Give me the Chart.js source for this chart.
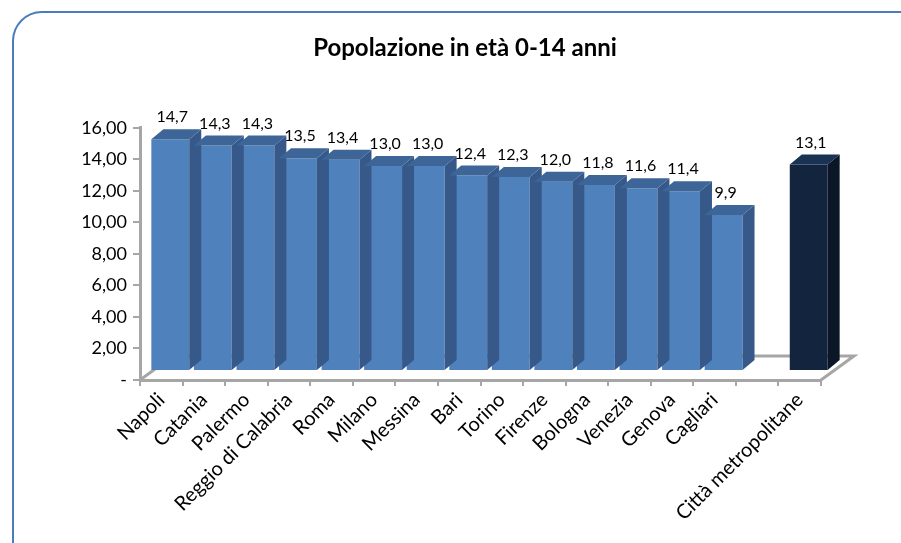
<!DOCTYPE html>
<html>
<head>
<meta charset="utf-8">
<script src="https://cdn.jsdelivr.net/npm/chart.js@4"></script>
<style>
  html, body { margin: 0; padding: 0; background: #fff; overflow: hidden; }
  #wrap { position: relative; width: 901px; height: 543px; }
  #frame { position: absolute; left: 12px; top: 11px; width: 930px; height: 570px;
           border: 2px solid #4a7ebb; border-radius: 30px; box-sizing: border-box; }
  canvas { position: absolute; left: 0; top: 0; }
</style>
</head>
<body>
<div id="wrap">
  <div id="frame"></div>
  <canvas id="chart" width="901" height="543"></canvas>
</div>
<script>
// categories and values (the empty slot is the gap before the total)
var citta = ['Napoli', 'Catania', 'Palermo', 'Reggio di Calabria', 'Roma', 'Milano', 'Messina',
  'Bari', 'Torino', 'Firenze', 'Bologna', 'Venezia', 'Genova', 'Cagliari', '', 'Città metropolitane'];
var quota = [14.7, 14.3, 14.3, 13.5, 13.4, 13.0, 13.0, 12.4, 12.3, 12.0, 11.8, 11.6, 11.4, 9.9, null, 13.1];
var yTicks = [0, 2, 4, 6, 8, 10, 12, 14, 16];

var FONT = 'Lato, "Open Sans", sans-serif';
var shift = { x: 9, y: -9 };     // bars sit a bit back on the floor
var depth = { x: 12, y: -10 };   // 3d depth of each column
var floorDepth = { x: 33, y: -24 };

function faceColors(i) {
  if (i === citta.length - 1) return { front: '#12243e', side: '#0b1727', top: '#1a3253' };
  return { front: '#4f81bd', side: '#36598a', top: '#3d6597' };
}

function fmt(v) {
  return v.toFixed(1).replace('.', ',');
}

var columns3d = {
  id: 'columns3d',
  beforeDatasetsDraw(chart) {
    var ctx = chart.ctx, a = chart.chartArea;
    var y0 = chart.scales.y.getPixelForValue(0);
    // floor outline
    ctx.save();
    ctx.strokeStyle = '#a6a6a6';
    ctx.lineWidth = 3;
    ctx.beginPath();
    ctx.moveTo(a.left, y0);
    ctx.lineTo(a.left + floorDepth.x, y0 + floorDepth.y);
    ctx.lineTo(a.right + floorDepth.x, y0 + floorDepth.y);
    ctx.lineTo(a.right, y0);
    ctx.stroke();
    ctx.restore();
    ctx.save();
    ctx.translate(shift.x, shift.y);
  },
  afterDatasetsDraw(chart) {
    var ctx = chart.ctx;
    var meta = chart.getDatasetMeta(0);
    meta.data.forEach(function (bar, i) {
      if (quota[i] == null) return;
      var c = faceColors(i);
      var w = bar.width / 2;
      var l = bar.x - w, r = bar.x + w, t = bar.y, b = bar.base;
      // side face
      ctx.fillStyle = c.side;
      ctx.beginPath();
      ctx.moveTo(r, t);
      ctx.lineTo(r + depth.x, t + depth.y);
      ctx.lineTo(r + depth.x, b + depth.y);
      ctx.lineTo(r, b);
      ctx.closePath();
      ctx.fill();
      // top face
      ctx.fillStyle = c.top;
      ctx.beginPath();
      ctx.moveTo(l, t);
      ctx.lineTo(l + depth.x, t + depth.y);
      ctx.lineTo(r + depth.x, t + depth.y);
      ctx.lineTo(r, t);
      ctx.closePath();
      ctx.fill();
    });
    ctx.restore();
    // value labels
    ctx.save();
    ctx.fillStyle = '#000';
    ctx.font = '16px ' + FONT;
    ctx.textAlign = 'center';
    ctx.textBaseline = 'bottom';
    meta.data.forEach(function (bar, i) {
      if (quota[i] == null) return;
      ctx.fillText(fmt(quota[i]), bar.x + shift.x + 2, bar.y + shift.y + depth.y - 4);
    });
    ctx.restore();
  }
};

new Chart('chart', {
  type: 'bar',
  data: {
    labels: citta,
    datasets: [{
      data: quota,
      backgroundColor: quota.map((v, i) => faceColors(i).front),
      barPercentage: 0.89,
      categoryPercentage: 1
    }]
  },
  options: {
    responsive: false,
    animation: false,
    layout: { padding: { left: 29, right: 0, top: 0, bottom: 0 } },
    plugins: {
      legend: { display: false },
      tooltip: { enabled: false },
      title: {
        display: true,
        text: 'Popolazione in età 0-14 anni',
        color: '#000',
        font: { family: FONT, size: 24, weight: 'bold' },
        padding: { top: 34, bottom: 65 }
      }
    },
    scales: {
      x: {
        afterFit: s => { s.height = 163; },
        grid: { drawOnChartArea: false, color: '#a6a6a6', tickLength: 6, lineWidth: 2, offset: true },
        border: { color: '#a6a6a6', width: 3 },
        ticks: {
          color: '#000', minRotation: 45, maxRotation: 45, autoSkip: false,
          font: { family: FONT, size: 20 }, padding: 2
        }
      },
      y: {
        min: 0,
        max: 16,
        afterBuildTicks: s => { s.ticks = yTicks.map(v => ({ value: v })); },
        afterFit: s => { s.width = 111; },
        grid: { drawOnChartArea: false, color: '#a6a6a6', tickLength: 7, lineWidth: 2 },
        border: { color: '#a6a6a6', width: 3 },
        ticks: {
          color: '#000', padding: 6,
          font: { family: FONT, size: 18 },
          callback: v => v === 0 ? '-' : v.toFixed(2).replace('.', ',')
        }
      },
      // empty margin on the right of the plot
      spacer: {
        type: 'linear',
        position: 'right',
        min: 0,
        max: 1,
        afterFit: s => { s.width = 80; },
        grid: { display: false },
        border: { display: false },
        ticks: { display: false }
      }
    }
  },
  plugins: [columns3d]
});
</script>
</body>
</html>
